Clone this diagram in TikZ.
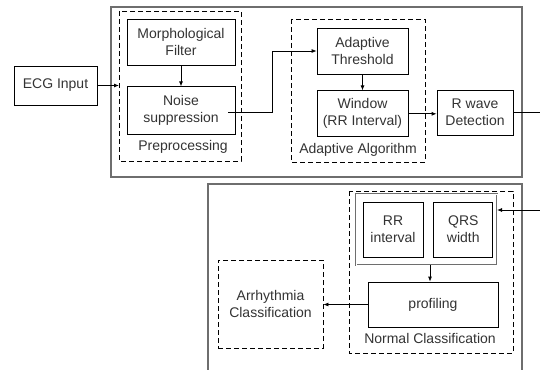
\documentclass[tikz,border=0pt]{standalone}
\usepackage{fontspec}
\setmainfont{Liberation Sans}
\usepackage{tikz}
\usetikzlibrary{arrows.meta,positioning,calc}
\definecolor{ink}{HTML}{333333}
\definecolor{frame}{HTML}{6E6E6E}

\begin{document}
\begin{tikzpicture}[
  x=1pt, y=-1pt,
  >={Latex[length=5pt,width=4pt]},
  font=\fontsize{14}{17}\selectfont,
  blk/.style={draw, line width=0.8pt, inner sep=2pt, align=center, text=ink},
  grp/.style={draw, dashed, dash pattern=on 5pt off 3pt, line width=0.8pt},
  outer/.style={draw=frame, line width=1.3pt},
  twin/.style={draw=frame, double=white, double distance=0.9pt, line width=0.8pt},
  lbl/.style={text=ink},
  flow/.style={->, line width=0.8pt},
]
\useasboundingbox (0,0) rectangle (540,369);

% ============================================================ DETECTION
\draw[outer] (111,7) rectangle (522,177);

\node[blk, minimum width=83pt, minimum height=39pt] (ecg) at (55.5,85.5) {ECG Input};

% preprocessing
\node[blk, minimum width=108pt, minimum height=46pt] (morph) at (181,42) {Morphological\\Filter};
\node[blk, minimum width=108pt, minimum height=48pt, below=21pt of morph] (noise) {Noise\\suppression};
\node[lbl] (prelbl) at (183,147) {Preprocessing};
\draw[grp] (119,11) rectangle (241,161);
\coordinate (preW) at (119,85.5);

% adaptive algorithm
\node[blk, minimum width=91pt, minimum height=46pt] (thr) at (362.5,51) {Adaptive\\Threshold};
\node[blk, minimum width=91pt, minimum height=46pt, below=16pt of thr] (win) {Window\\(RR Interval)};
\node[lbl] (adlbl) at (358,150) {Adaptive Algorithm};
\draw[grp] (291,19) rectangle (425,162);

\node[blk, minimum width=76pt, minimum height=45pt] (rwave) at (475,112.5) {R wave\\Detection};
\coordinate (outR) at (540,112.5);

\draw[flow] (ecg) -- (preW);
\draw[flow] (morph) -- (noise);
\draw[flow] ([xshift=-7pt,yshift=-2pt]noise.east) -- ++(44,0) |- (thr.west);
\draw[flow] (thr) -- (win);
\draw[flow] (win.east) -- (win.east -| rwave.west);
\draw (rwave.east) -- (outR);

% ============================================================ CLASSIFICATION
\draw[outer] (208,380) |- (522,184) -- (522,380);

\node[blk, minimum width=60pt, minimum height=55pt] (rr) at (393,229.5) {RR\\interval};
\node[blk, minimum width=59pt, minimum height=55pt, right=10pt of rr] (qrs) {QRS\\width};
\draw[twin] (356,194) rectangle (497,265);
\coordinate (grpS) at (430,265);
\coordinate (grpE) at (497,210);
\coordinate (inR) at (540,210);

\node[blk, minimum width=130pt, minimum height=45pt] (prof) at (433,304.5) {profiling};
\node[lbl] (nclbl) at (430,338) {Normal Classification};
\draw[grp] (349,191) rectangle (513,353);

\node[lbl, draw, dashed, dash pattern=on 5pt off 3pt, line width=0.8pt,
      minimum width=105pt, minimum height=88pt, align=center] (arrh) at (270.5,304) {Arrhythmia\\Classification};

\draw[flow] (inR) -- (grpE);
\draw[flow] (grpS) -- (grpS |- prof.north);
\draw[flow] (prof.west) -- (prof.west -| arrh.east);

\end{tikzpicture}
\end{document}
